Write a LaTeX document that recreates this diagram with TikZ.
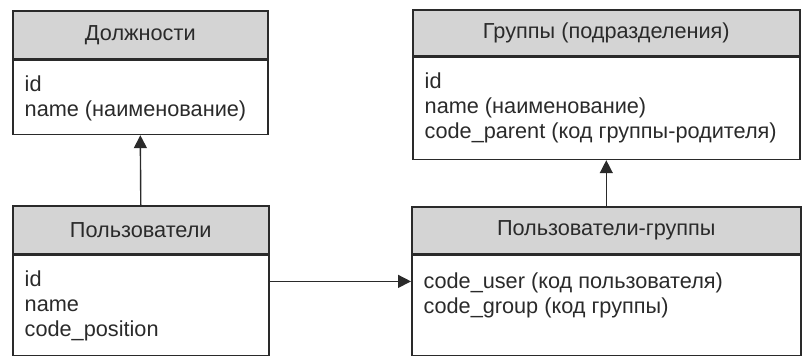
\documentclass[tikz,border=0pt]{standalone}
\usepackage{fontspec}
\setmainfont{Liberation Sans}
\usetikzlibrary{arrows.meta, positioning}
\definecolor{headgray}{HTML}{D4D4D4}
\definecolor{inkgray}{HTML}{2A2A2A}

\begin{document}
\begin{tikzpicture}[x=1pt, y=-1pt, font=\fontsize{21.7}{25}\selectfont, text=inkgray,
  head/.style={draw=inkgray, line width=1.6pt, fill=headgray, anchor=north west, inner sep=0pt},
  body/.style={draw=inkgray, line width=1.6pt, inner sep=0pt},
  fields/.style={anchor=north west, align=left, inner sep=0pt},
  ->, >={Triangle[length=13pt,width=13pt]}, line width=1.4pt, draw=inkgray]
  \useasboundingbox (0,0) rectangle (805,356);

  % tables
  \node[head, minimum width=255pt, minimum height=48pt] (h1) at (12,10) {Должности};
  \node[body, minimum width=255pt, minimum height=74pt, below=0pt of h1] (b1) {};
  \node[fields] (f1) at ([shift={(12,13.5)}]b1.north west) {\strut id\\name (наименование)};

  \node[head, minimum width=387pt, minimum height=46pt] (h2) at (412,9) {Группы (подразделения)};
  \node[body, minimum width=387pt, minimum height=102pt, below=0pt of h2] (b2) {};
  \node[fields] (f2) at ([shift={(12,13.5)}]b2.north west) {\strut id\\name (наименование)\\code\_parent (код группы-родителя)};

  \node[head, minimum width=256pt, minimum height=48pt] (h3) at (12,205) {Пользователи};
  \node[body, minimum width=256pt, minimum height=100pt, below=0pt of h3] (b3) {};
  \node[fields] (f3) at ([shift={(12,13.5)}]b3.north west) {\strut id\\name\\code\_position};

  \node[head, minimum width=389pt, minimum height=47pt] (h4) at (411,206) {Пользователи-группы};
  \node[body, minimum width=389pt, minimum height=100pt, below=0pt of h4] (b4) {};
  \node[fields] (f4) at ([shift={(12,15.5)}]b4.north west) {\strut code\_user (код пользователя)\\code\_group (код группы)};

  % links
  \draw (h3.north) -- (b1.south);
  \draw (h4.north) -- (b2.south);
  \draw ([yshift=24pt]b3.east) -- ([yshift=24pt]b4.west);
\end{tikzpicture}
\end{document}
